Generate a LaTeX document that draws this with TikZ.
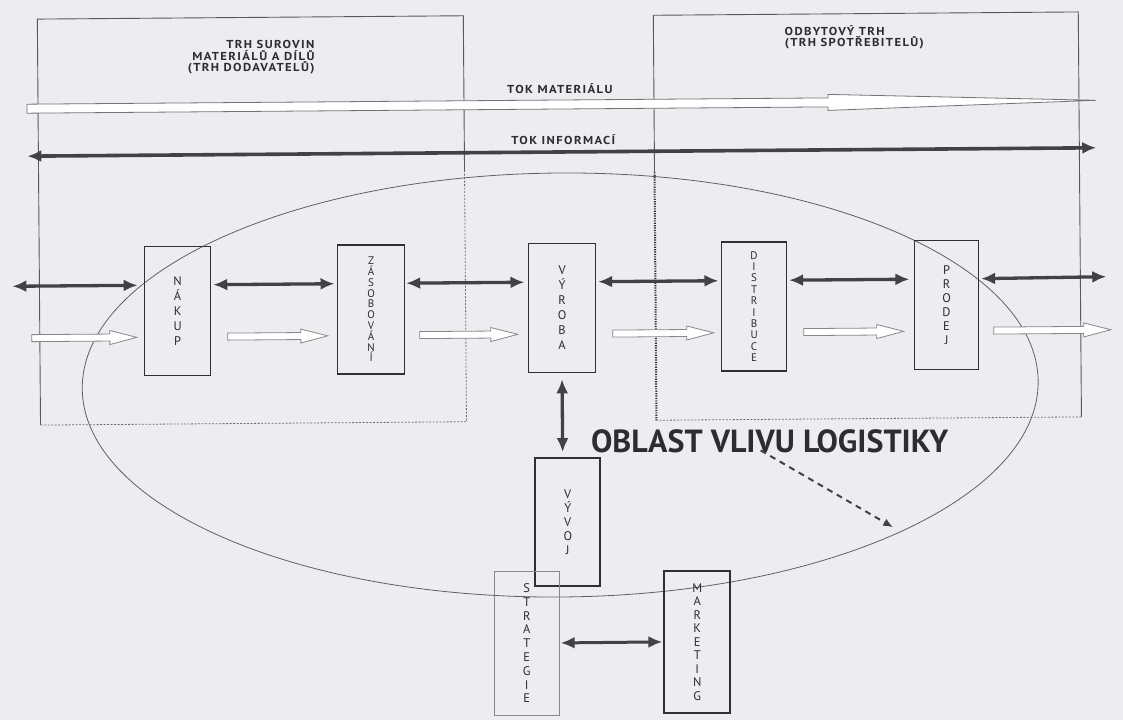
\documentclass[tikz,border=0pt]{standalone}
\usepackage{fontspec}
\setmainfont{PT Sans}
\newfontfamily\lblfont[FakeStretch=1.1,LetterSpace=12]{PT Sans}
\usetikzlibrary{arrows.meta}
\definecolor{bg}{RGB}{237,237,241}
\definecolor{ink}{RGB}{45,45,48}
\definecolor{boxc}{RGB}{48,48,51}
\definecolor{arrc}{RGB}{66,66,68}
\definecolor{hol}{RGB}{135,135,140}
\definecolor{ellc}{RGB}{95,95,100}
\newcommand\hollowarr[3]{\draw[hollow] (#1,#3-3.5) -- (#2-27,#3-3.5) -- (#2-27,#3-7) -- (#2,#3) -- (#2-27,#3+7) -- (#2-27,#3+3.5) -- (#1,#3+3.5) -- cycle;}
\begin{document}
\begin{tikzpicture}[x=1pt,y=-1pt,
  box/.style={draw=boxc, line width=1.7pt, minimum width=66pt, minimum height=129pt, inner sep=0pt, align=center, text=ink},
  vl/.style={font=\fontsize{12.5}{#1}\selectfont},
  vls/.style={font=\fontsize{11}{#1}\selectfont},
  darr/.style={draw=arrc, line width=3.3pt, {Latex[length=14pt,width=12pt]}-{Latex[length=14pt,width=12pt]}},
  hollow/.style={draw=hol, fill=white, line width=0.8pt, line join=miter},
  ttl/.style={font=\lblfont\bfseries\fontsize{11.5}{11}\selectfont, text=ink, inner sep=0pt},
  solidl/.style={draw=boxc!80, line width=0.9pt},
  dotl/.style={draw=boxc!70, line width=0.8pt, dash pattern=on 2pt off 1.5pt},
  hdot/.style={draw=boxc, line width=2pt, dash pattern=on 1.2pt off 1.2pt},
]
\fill[bg] (0,0) rectangle (1123,720);
\useasboundingbox (0,0) rectangle (1123,720);
\begin{scope}[rotate around={0.45:(560,360)}]
% market regions
\draw[solidl] (466,170) -- (466,15) -- (40,15) -- (40,421);
\draw[dotl] (40,421) -- (466,421) -- (466,170);
\draw[solidl] (656,173) -- (656,16) -- (1081,16) -- (1081,421);
\draw[dotl] (1081,421) -- (656,421);
\draw[hdot] (656,173) -- (656,421);
% titles
\node[ttl, anchor=base east] (tsup1) at (317,47) {TRH SUROVIN};
\node[ttl, anchor=base east] (tsup2) at (317,58.5) {MATERIÁLŮ A DÍLŮ};
\node[ttl, anchor=base east] (tsup3) at (317,70) {(TRH DODAVATELŮ)};
\node[ttl, anchor=base west] (tcons1) at (787,37) {ODBYTOVÝ TRH};
\node[ttl, anchor=base west] (tcons2) at (787,48.5) {(TRH SPOTŘEBITELŮ)};
% flows
\node[ttl] (tmat) at (562,89) {TOK MATERIÁLU};
\node[ttl] (tinf) at (565,140) {TOK INFORMACÍ};
\draw[draw=gray!90!black, fill=white, line width=0.8pt] (29,100) -- (830,100) -- (830,96.5) -- (1098,104.5) -- (830,112.5) -- (830,109) -- (29,109) -- cycle;
\coordinate (infL) at (29,152);
\coordinate (infR) at (1098,152);
\draw[draw=arrc, line width=3.6pt, {Latex[length=14pt,width=12pt]}-{Latex[length=14pt,width=12pt]}] (infL) -- (infR);
% ellipse
\draw[draw=ellc, line width=0.8pt] (560,385) ellipse [x radius=478pt, y radius=212pt];
% boxes
\node[box, vl=15] (nakup) at (178,308) {N\\Á\\K\\U\\P};
\node[box, vls=10.8, minimum width=67pt] (zas) at (371.5,308) {Z\\Á\\S\\O\\B\\O\\V\\Á\\N\\Í};
\node[box, vl=15, minimum width=67pt] (vyroba) at (562.5,308) {V\\Ý\\R\\O\\B\\A};
\node[box, vls=11.4, minimum width=65pt] (distr) at (754.5,308) {D\\I\\S\\T\\R\\I\\B\\U\\C\\E};
\node[box, vl=14, minimum width=64pt] (prodej) at (947,308) {P\\R\\O\\D\\E\\J};
\node[box, vl=14, minimum width=65pt, minimum height=128pt] (vyvoj) at (566.5,522) {V\\Ý\\V\\O\\J};
\node[box, vl=13.8, minimum width=65pt, minimum height=144pt, draw=hol, line width=1pt] (strat) at (524.5,643) {S\\T\\R\\A\\T\\E\\G\\I\\E};
\node[box, vl=13.5, minimum width=66pt, minimum height=142pt] (mark) at (695,643) {M\\A\\R\\K\\E\\T\\I\\N\\G};
% dark arrows row
\coordinate (rowA) at (0,282);
\coordinate (leftEnd) at (13,282);
\coordinate (rightEnd) at (1107,281);
\draw[darr, shorten >=6pt] (leftEnd) -- (nakup.west |- rowA);
\draw[darr, shorten <=2pt, shorten >=2pt] (nakup.east |- rowA) -- (zas.west |- rowA);
\draw[darr, shorten <=1pt, shorten >=3pt] (zas.east |- rowA) -- (vyroba.west |- rowA);
\draw[darr, shorten <=2pt, shorten >=2pt] (vyroba.east |- rowA) -- (distr.west |- rowA);
\draw[darr, shorten <=2pt, shorten >=4pt] (distr.east |- rowA) -- (prodej.west |- rowA);
\draw[darr, shorten <=2pt] (prodej.east |- rowA) -- (rightEnd);
% hollow arrows row
\hollowarr{32}{137}{334}
\hollowarr{228}{328}{334}
\hollowarr{420}{518}{334}
\hollowarr{613}{714}{334}
\hollowarr{804}{904}{334}
\hollowarr{994}{1111}{334}
% vertical and bottom arrows
\draw[darr, shorten <=6pt, shorten >=5pt] (vyroba.south) -- (vyroba.south |- vyvoj.north);
\draw[darr, line width=3pt, shorten <=1pt, shorten >=1pt] (strat.east |- mark.center) -- (mark.west);
% logistics label
\node[font=\bfseries\fontsize{32}{34}\selectfont, text=ink, inner sep=0pt] (oblast) at (769,443) {OBLAST VLIVU LOGISTIKY};
\coordinate (dashS) at (760,452);
\coordinate (dashE) at (892,530);
\draw[draw=arrc, line width=2pt, dash pattern=on 6pt off 5pt, -{Latex[length=10pt,width=8pt]}] (dashS) -- (dashE);
\end{scope}
\end{tikzpicture}
\end{document}
